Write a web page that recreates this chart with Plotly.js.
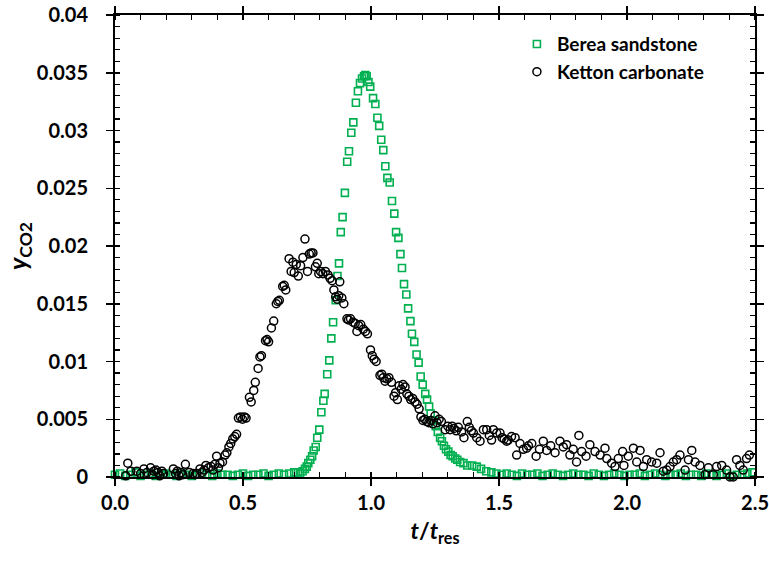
<!DOCTYPE html>
<html>
<head>
<meta charset="utf-8">
<script src="https://cdn.plot.ly/plotly-3.0.1.min.js"></script>
<style>html,body{margin:0;padding:0;background:#fff;}#chart{width:769px;height:564px;}</style>
</head>
<body>
<div id="chart"></div>
<script>
// Berea sandstone (green squares)
const bereaT = [0.00,0.02,0.04,0.06,0.08,0.10,0.12,0.14,0.16,0.18,0.20,0.22,0.24,0.26,0.28,0.30,0.32,0.34,0.36,0.38,0.40,0.42,0.44,0.46,0.48,0.50,0.52,0.54,0.56,0.58,0.60,0.62,0.64,0.66,0.68,0.70,
0.715,0.723,0.733,0.742,0.749,0.755,0.763,0.770,0.776,0.784,0.790,0.798,0.806,0.814,0.819,0.829,0.837,0.845,0.852,0.862,0.869,0.875,0.882,0.889,0.898,0.907,0.914,0.923,0.931,0.941,0.949,0.957,0.965,0.973,0.978,0.983,0.990,0.997,
1.008,1.017,1.025,1.032,1.040,1.048,1.056,1.064,1.073,1.082,1.091,1.098,1.107,1.115,1.121,1.129,1.138,1.145,1.154,1.160,1.169,1.178,1.186,1.194,1.202,1.212,1.219,1.227,1.233,1.244,1.253,1.261,1.270,1.277,1.285,1.293,1.302,1.311,1.319,1.329,1.337,1.348,1.361,1.376,1.395,1.413,1.430,1.450,1.470,
1.49,1.51,1.53,1.55,1.57,1.59,1.61,1.63,1.65,1.67,1.69,1.71,1.73,1.75,1.77,1.79,1.81,1.83,1.85,1.87,1.89,1.91,1.93,1.95,1.97,1.99,2.01,2.03,2.05,2.07,2.09,2.11,2.13,2.15,2.17,2.19,2.21,2.23,2.25,2.27,2.29,2.31,2.33,2.35,2.37,2.39,2.41,2.43,2.45,2.47,2.49];
const bereaY = [0.0002,0.0003,0.0001,0.0002,0.0004,0.0001,0.0002,0.0003,0.0001,0.0002,0.0003,0.0002,0.0001,0.0003,0.0002,0.0001,0.0002,0.0003,0.0002,0.0001,0.0003,0.0002,0.0002,0.0001,0.0002,0.0003,0.0001,0.0002,0.0002,0.0003,0.0001,0.0002,0.0003,0.0002,0.0003,0.0004,
0.0004,0.0003,0.0005,0.0007,0.0009,0.0012,0.0015,0.0018,0.0023,0.0026,0.0034,0.0041,0.0056,0.0066,0.0072,0.0089,0.0101,0.0120,0.0134,0.0153,0.0174,0.0185,0.0212,0.0225,0.0246,0.0273,0.0282,0.0298,0.0307,0.0324,0.0334,0.0341,0.0345,0.0347,0.0348,0.0347,0.0342,0.0338,
0.0328,0.0323,0.0311,0.0304,0.0292,0.0283,0.0269,0.0259,0.0255,0.0239,0.0228,0.0212,0.0207,0.0193,0.0181,0.0167,0.0158,0.0146,0.0135,0.0124,0.0117,0.0106,0.0099,0.0087,0.0080,0.0072,0.0067,0.0061,0.0055,0.0049,0.0044,0.0039,0.0034,0.0031,0.0027,0.0024,0.0022,0.0019,0.0018,0.0016,0.0015,0.0013,0.0012,0.0010,0.0010,0.0009,0.0007,0.0005,0.0004,
0.0003,0.0002,0.0003,0.0002,0.0001,0.0003,0.0002,0.0002,0.0003,0.0001,0.0002,0.0003,0.0002,0.0001,0.0002,0.0003,0.0002,0.0002,0.0001,0.0003,0.0002,0.0001,0.0002,0.0003,0.0002,0.0001,0.0002,0.0002,0.0003,0.0001,0.0002,0.0003,0.0002,0.0001,0.0002,0.0002,0.0003,0.0001,0.0002,0.0002,0.0001,0.0003,0.0002,0.0001,0.0002,0.0003,0.0001,0.0002,0.0002,0.0003,0.0004];

// Ketton carbonate (black circles)
const kettonT = [0.042,0.050,0.062,0.085,0.100,0.113,0.125,0.139,0.146,0.152,0.160,0.168,0.175,0.183,0.190,0.228,0.236,0.243,0.250,0.258,0.265,0.275,0.290,0.305,0.313,0.320,0.332,0.340,0.348,0.355,0.365,0.375,0.383,0.390,0.397,0.404,0.410,0.420,0.430,0.437,0.445,0.452,0.460,0.468,0.475,0.482,0.490,0.498,0.505,0.512,0.525,0.532,0.542,0.548,0.559,0.566,0.572,0.588,0.594,0.600,0.611,0.620,0.630,0.636,0.642,0.655,0.661,0.667,0.680,0.688,0.695,0.700,0.708,0.716,0.725,0.734,0.742,0.752,0.759,0.766,0.773,0.783,0.790,0.796,0.803,0.812,0.822,0.832,0.840,0.848,0.855,0.862,0.868,0.874,0.878,0.886,0.894,0.906,0.912,0.920,0.930,0.938,0.945,0.952,0.960,0.970,0.978,0.986,0.998,1.005,1.012,1.020,1.035,1.042,1.048,1.055,1.062,1.070,1.080,1.090,1.096,1.103,1.110,1.118,1.125,1.133,1.140,1.148,1.155,1.163,1.172,1.180,1.188,1.195,1.203,1.210,1.218,1.226,1.234,1.242,1.250,1.258,1.266,1.275,1.290,1.300,1.309,1.317,1.324,1.333,1.341,1.354,1.363,1.376,1.384,1.392,1.400,1.413,1.426,1.439,1.452,1.462,1.471,1.478,1.491,1.504,1.512,1.520,1.530,1.536,1.549,1.563,1.569,1.582,1.595,1.608,1.615,1.628,1.645,1.658,1.673,1.686,1.702,1.719,1.738,1.751,1.764,1.777,1.790,1.803,1.812,1.823,1.840,1.855,1.875,1.895,1.914,1.921,1.940,1.953,1.966,1.983,1.988,2.005,2.025,2.038,2.051,2.064,2.077,2.096,2.116,2.129,2.142,2.155,2.168,2.181,2.194,2.207,2.227,2.240,2.253,2.266,2.285,2.305,2.318,2.337,2.350,2.370,2.389,2.402,2.415,2.428,2.441,2.454,2.467,2.478];
const kettonY = [0.0001,0.0012,0.0005,0.0005,0.0003,0.0007,0.0004,0.0008,0.0002,0.0005,0.0006,0.0004,0.0001,0.0005,0.0003,0.0007,0.0003,0.0005,0.0001,0.0004,0.0002,0.0011,0.0004,0.0003,0.0002,0.0003,0.0007,0.0004,0.0006,0.0010,0.0008,0.0009,0.0006,0.0011,0.0018,0.0008,0.0012,0.0013,0.0019,0.0021,0.0026,0.0029,0.0033,0.0035,0.0037,0.0051,0.0052,0.0050,0.0052,0.0051,0.0069,0.0065,0.0075,0.0082,0.0094,0.0104,0.0105,0.0118,0.0119,0.0117,0.0129,0.0135,0.0150,0.0152,0.0153,0.0165,0.0166,0.0162,0.0189,0.0178,0.0186,0.0177,0.0184,0.0174,0.0183,0.0190,0.0206,0.0178,0.0193,0.0194,0.0194,0.0182,0.0185,0.0176,0.0178,0.0176,0.0178,0.0175,0.0172,0.0170,0.0162,0.0156,0.0154,0.0157,0.0169,0.0155,0.0150,0.0137,0.0136,0.0137,0.0134,0.0133,0.0126,0.0131,0.0132,0.0128,0.0126,0.0124,0.0110,0.0105,0.0102,0.0100,0.0088,0.0089,0.0086,0.0083,0.0085,0.0086,0.0082,0.0070,0.0073,0.0067,0.0079,0.0076,0.0080,0.0078,0.0072,0.0070,0.0067,0.0068,0.0065,0.0063,0.0059,0.0052,0.0049,0.0050,0.0048,0.0047,0.0049,0.0046,0.0053,0.0047,0.0050,0.0048,0.0041,0.0044,0.0041,0.0044,0.0042,0.0040,0.0043,0.0039,0.0034,0.0048,0.0043,0.0040,0.0038,0.0034,0.0031,0.0041,0.0041,0.0036,0.0032,0.0041,0.0038,0.0038,0.0034,0.0033,0.0031,0.0032,0.0035,0.0034,0.0019,0.0029,0.0024,0.0025,0.0027,0.0029,0.0018,0.0024,0.0031,0.0023,0.0027,0.0021,0.0031,0.0026,0.0028,0.0019,0.0024,0.0013,0.0036,0.0022,0.0018,0.0028,0.0022,0.0019,0.0025,0.0016,0.0012,0.0009,0.0016,0.0022,0.0010,0.0018,0.0025,0.0013,0.0023,0.0009,0.0015,0.0013,0.0012,0.0021,0.0005,0.0006,0.0009,0.0013,0.0015,0.0019,0.0006,0.0015,0.0023,0.0013,0.0010,0.0002,0.0008,0.0002,0.0009,0.0010,0.0006,0.0000,0.0000,0.0015,0.0010,0.0006,0.0016,0.0019];

const seriesNames = ['Berea sandstone', 'Ketton carbonate'];
const xTickLabels = ['0.0','0.5','1.0','1.5','2.0','2.5'];
const xTickVals = [0, 0.5, 1.0, 1.5, 2.0, 2.5];

const FONT = 'Lato, "Open Sans", "DejaVu Sans", sans-serif';

const traces = [
  {x: bereaT, y: bereaY, name: seriesNames[0], type: 'scatter', mode: 'markers',
   marker: {symbol: 'square-open', size: 7, color: '#00b050', line: {width: 1.6, color: '#00b050'}}, cliponaxis: false},
  {x: kettonT, y: kettonY, name: seriesNames[1], type: 'scatter', mode: 'markers',
   marker: {symbol: 'circle-open', size: 8, color: '#000000', line: {width: 1.5, color: '#000000'}}, cliponaxis: false},
  {x: [], y: [], xaxis: 'x2', yaxis: 'y2', showlegend: false, type: 'scatter', mode: 'markers', hoverinfo: 'skip'}
];

const layout = {
  width: 769, height: 564,
  margin: {l: 115, r: 14, t: 15, b: 87},
  paper_bgcolor: '#ffffff', plot_bgcolor: '#ffffff',
  font: {family: FONT, color: '#000', size: 19},
  showlegend: true,
  legend: {x: 0.628, y: 0.978, xanchor: 'left', yanchor: 'top', bgcolor: 'rgba(0,0,0,0)',
           font: {family: FONT, size: 19, color: '#000', weight: 'bold'}, itemwidth: 30, tracegroupgap: 0},
  xaxis: {
    range: [0, 2.5], tickvals: xTickVals, ticktext: xTickLabels,
    ticks: 'outside', ticklen: 7, tickwidth: 1.5, tickcolor: '#000',
    minor: {dtick: 0.1, ticks: 'inside', ticklen: 5, tickwidth: 1.2, tickcolor: '#000', showgrid: false},
    showline: true, linecolor: '#000', linewidth: 2, mirror: 'ticks',
    showgrid: false, zeroline: false,
    tickfont: {family: FONT, size: 20, color: '#000', weight: 'bold'},
    title: {text: '<b><i>t</i>/<i>t</i><sub>res</sub></b>', font: {family: FONT, size: 23, color: '#000'}, standoff: 10}
  },
  yaxis: {
    range: [0, 0.04], dtick: 0.005, tick0: 0,
    ticks: 'outside', ticklen: 7, tickwidth: 1.5, tickcolor: '#000',
    minor: {dtick: 0.001, ticks: 'inside', ticklen: 5, tickwidth: 1.2, tickcolor: '#000', showgrid: false},
    showline: true, linecolor: '#000', linewidth: 2, mirror: 'ticks',
    showgrid: false, zeroline: false, ticklabelstandoff: 14,
    tickfont: {family: FONT, size: 20, color: '#000', weight: 'bold'},
    title: {text: '<b><i>y</i><sub>CO2</sub></b>', font: {family: FONT, size: 25, color: '#000'}, standoff: 2}
  },
  xaxis2: {overlaying: 'x', range: [0, 2.5], dtick: 0.5, tick0: 0, ticks: 'inside', ticklen: 5, tickwidth: 1.5,
           tickcolor: '#000', showticklabels: false, showline: false, showgrid: false, zeroline: false, mirror: 'ticks', side: 'bottom'},
  yaxis2: {overlaying: 'y', range: [0, 0.04], dtick: 0.005, tick0: 0, ticks: 'inside', ticklen: 5, tickwidth: 1.5,
           tickcolor: '#000', showticklabels: false, showline: false, showgrid: false, zeroline: false, mirror: 'ticks', side: 'left'}
};

Plotly.newPlot('chart', traces, layout, {staticPlot: true, displayModeBar: false});
</script>
</body>
</html>
